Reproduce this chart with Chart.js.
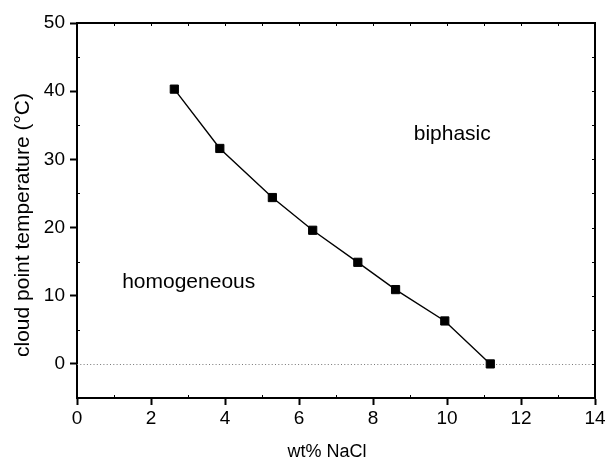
<!DOCTYPE html>
<html><head><meta charset="utf-8">
<script src="https://cdn.jsdelivr.net/npm/chart.js@4/dist/chart.umd.min.js"></script>
<style>html,body{margin:0;padding:0;background:#fff}#wrap{width:608px;height:462px}</style>
</head><body><div id="wrap"><canvas id="c" width="608" height="462"></canvas></div>
<script>
// ---- data ----
const nacl = [2.63, 3.86, 5.28, 6.37, 7.59, 8.61, 9.94, 11.17];
const cloudPoint = [40.3, 31.6, 24.4, 19.6, 14.9, 10.9, 6.3, 0.0];
const xTicks = [0, 2, 4, 6, 8, 10, 12, 14];
const yTicks = [0, 10, 20, 30, 40, 50];
const xMinor = [1, 3, 5, 7, 9, 11, 13];
const yMinor = [-5, 5, 15, 25, 35, 45];
const regionNames = ['biphasic', 'homogeneous'];
const regionAnchorX = [9.1, 1.22];
const regionAnchorY = [32.9, 11.1];
const xTitle = 'wt% NaCl';
const yTitle = 'cloud point temperature (°C)';

const FONT = "'Liberation Sans', Arial, Helvetica, sans-serif";

const framePlugin = {
  id: 'frame',
  beforeDatasetsDraw(chart) {
    const {ctx, chartArea: a, scales: {y}} = chart;
    const y0 = Math.round(y.getPixelForValue(0)) + 0.5;
    ctx.save();
    ctx.strokeStyle = '#777';
    ctx.lineWidth = 1;
    ctx.setLineDash([1, 2.3]);
    ctx.beginPath();
    ctx.moveTo(a.left, y0);
    ctx.lineTo(a.right, y0);
    ctx.stroke();
    ctx.restore();
  },
  afterDatasetsDraw(chart) {
    const {ctx, scales: {x, y}} = chart;
    ctx.save();
    ctx.fillStyle = '#000';
    ctx.font = '21px ' + FONT;
    ctx.textAlign = 'left';
    ctx.textBaseline = 'alphabetic';
    regionNames.forEach((t, i) => {
      ctx.fillText(t, x.getPixelForValue(regionAnchorX[i]), y.getPixelForValue(regionAnchorY[i]));
    });
    ctx.restore();
  },
  afterDraw(chart) {
    const {ctx, chartArea: a, scales: {x, y}} = chart;
    ctx.save();
    ctx.strokeStyle = '#000';
    ctx.lineWidth = 2;
    ctx.beginPath();
    ctx.moveTo(a.left - 1, a.top);
    ctx.lineTo(a.right, a.top);
    ctx.lineTo(a.right, a.bottom + 1);
    ctx.stroke();
    ctx.lineWidth = 1;
    ctx.beginPath();
    xMinor.forEach(v => {
      const px = Math.round(x.getPixelForValue(v)) + 0.5;
      ctx.moveTo(px, a.bottom); ctx.lineTo(px, a.bottom - 3);
    });
    xMinor.concat(xTicks).forEach(v => {
      const px = Math.round(x.getPixelForValue(v)) + 0.5;
      ctx.moveTo(px, a.top); ctx.lineTo(px, a.top + 3);
    });
    yMinor.forEach(v => {
      const py = Math.round(y.getPixelForValue(v)) + 0.5;
      ctx.moveTo(a.left, py); ctx.lineTo(a.left + 3, py);
    });
    yMinor.concat(yTicks).forEach(v => {
      const py = Math.round(y.getPixelForValue(v)) + 0.5;
      ctx.moveTo(a.right, py); ctx.lineTo(a.right - 3, py);
    });
    ctx.stroke();

    // axis titles
    ctx.fillStyle = '#000';
    ctx.textBaseline = 'alphabetic';
    ctx.font = '18px ' + FONT;
    ctx.textAlign = 'center';
    ctx.fillText(xTitle, 327, 456.5);
    ctx.translate(29, 357);
    ctx.rotate(-Math.PI / 2);
    ctx.font = '21px ' + FONT;
    ctx.textAlign = 'left';
    ctx.fillText(yTitle, 0, 0);
    ctx.restore();
  }
};

new Chart(document.getElementById('c'), {
  type: 'scatter',
  data: {
    datasets: [{
      data: nacl.map((v, i) => ({x: v, y: cloudPoint[i]})),
      showLine: true,
      borderColor: '#000',
      borderWidth: 1.4,
      tension: 0,
      pointStyle: 'rect',
      pointRadius: 5.8,
      pointBorderWidth: 1,
      pointBackgroundColor: '#000',
      pointBorderColor: '#000'
    }]
  },
  options: {
    responsive: false,
    devicePixelRatio: 1,
    animation: false,
    layout: {padding: {top: 23, right: 13, left: 0, bottom: 0}},
    plugins: {legend: {display: false}, tooltip: {enabled: false}},
    scales: {
      x: {
        type: 'linear', min: 0, max: 14,
        afterBuildTicks: s => { s.ticks = xTicks.map(v => ({value: v})); },
        afterFit: s => { s.height = 64; },
        grid: {display: true, drawOnChartArea: false, drawTicks: true, tickLength: 7, tickColor: '#000', tickWidth: 2},
        border: {display: true, color: '#000', width: 2},
        ticks: {color: '#000', padding: 2, font: {family: FONT, size: 19}, maxRotation: 0},
        title: {display: false}
      },
      y: {
        type: 'linear', min: -5, max: 50,
        afterBuildTicks: s => { s.ticks = yTicks.map(v => ({value: v})); },
        afterFit: s => { s.width = 77; },
        grid: {display: true, drawOnChartArea: false, drawTicks: true, tickLength: 7, tickColor: '#000', tickWidth: 2},
        border: {display: true, color: '#000', width: 2},
        ticks: {color: '#000', padding: 5, font: {family: FONT, size: 19}},
        title: {display: false}
      }
    }
  },
  plugins: [framePlugin]
});
</script>
</body></html>
